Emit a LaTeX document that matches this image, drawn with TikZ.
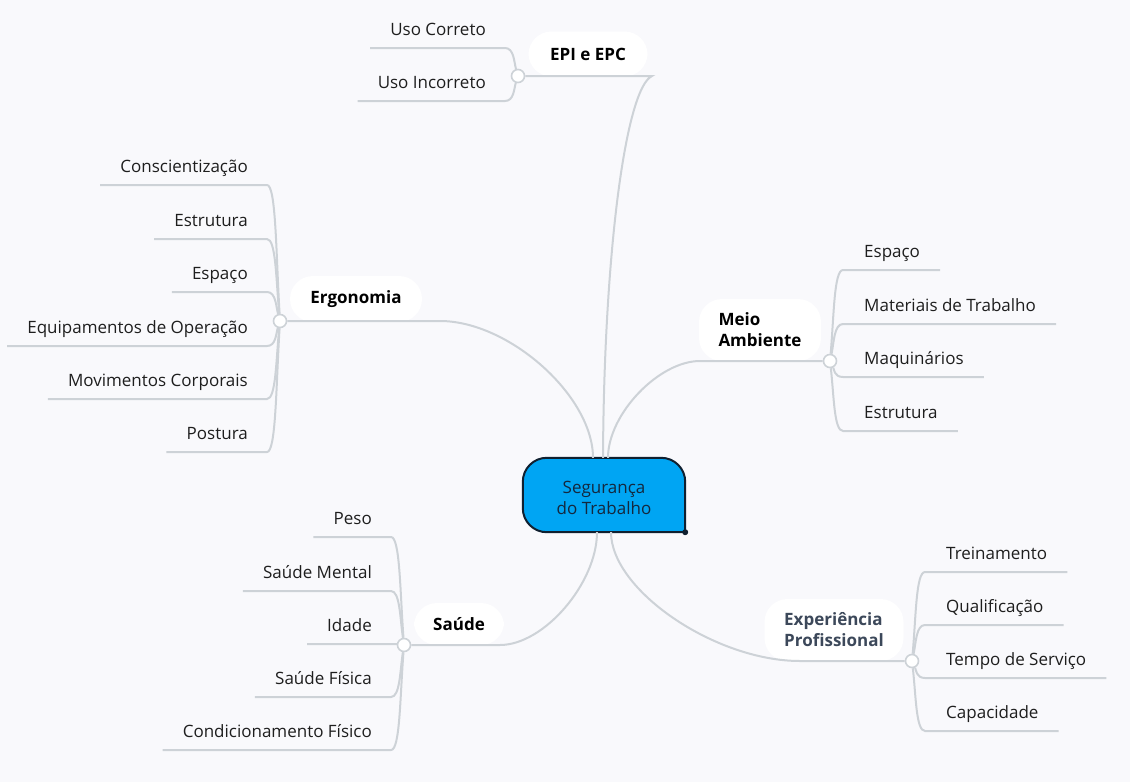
\documentclass[tikz,border=0pt]{standalone}
\usepackage{fontspec}
\setmainfont{Open Sans}
\usetikzlibrary{calc}

\definecolor{bgc}{RGB}{249,249,252}
\definecolor{linec}{RGB}{205,210,215}
\definecolor{hubc}{RGB}{0,165,243}
\definecolor{hubline}{RGB}{16,32,48}
\definecolor{hubtext}{RGB}{20,40,62}
\definecolor{leaftext}{RGB}{30,30,30}
\definecolor{exptext}{RGB}{60,72,90}

\pgfdeclarelayer{back}
\pgfdeclarelayer{front}
\pgfsetlayers{back,main,front}

\tikzset{
  branch/.style={draw=linec, line width=2pt},
  leaf/.style={inner sep=0pt, text=leaftext, font=\fontsize{17}{21}\selectfont},
  topic/.style={fill=white, rounded corners=23pt, inner sep=0pt, text=black,
    font=\fontsize{17}{21}\selectfont\bfseries, align=left},
  junc/.style={circle, draw=linec, line width=1.6pt, fill=white,
    minimum size=13pt, inner sep=0pt},
}

% leaf to the left of its junction: name, label, line y, junction, junction x, junction y
\newcommand\leftleaf[6]{%
  \node[leaf, anchor=base east] (#1) at ({#5-32},{#3-13}) {#2};
  \draw[branch] ($(#1.base west)+(-20,13)$) -- ({#5-13},#3)
    .. controls ({#5-4},#3) and ({#5-4},{(#3+#6)/2}) .. (#4);
}
% leaf to the right of its junction
\newcommand\rightleaf[6]{%
  \node[leaf, anchor=base west] (#1) at ({#5+34},{#3-13}) {#2};
  \draw[branch] ($(#1.base east)+(20,13)$) -- ({#5+13},#3)
    .. controls ({#5+4},#3) and ({#5+4},{(#3+#6)/2}) .. (#4);
}

\begin{document}
\begin{tikzpicture}[x=1pt,y=-1pt]
\useasboundingbox (0,0) rectangle (1130,782);

% central topic: the node reaches 6pt below the drawn box, which keeps its text low
\node[font=\fontsize{17}{21}\selectfont, text=hubtext, align=center,
  minimum width=162pt, minimum height=80pt, inner sep=0pt] (hub) at (604,498)
  {Segurança\\do Trabalho};
\coordinate (hubSE) at ($(hub.south east)+(0,-6)$);
\coordinate (hubSW) at ($(hub.south west)+(0,-6)$);
\coordinate (hubS) at ($(hub.south)+(0,-6)$);
\begin{pgfonlayer}{back}
  \fill[bgc] (0,0) rectangle (1130,782);
  \draw[hubline, line width=2pt, fill=hubc, rounded corners=24pt]
    (hubSE) -- (hubSW) -- (hub.north west)
    -- (hub.north east) -- (hubSE);
  \fill[hubline] (hubSE) circle (3pt);
\end{pgfonlayer}

% main topics
\node[topic, minimum width=119pt, minimum height=45pt] (epi) at (588,54) {EPI e EPC};
\node[topic, minimum width=132pt, minimum height=46pt] (ergo) at (356,299) {Ergonomia};
\node[topic, minimum width=122pt, minimum height=62pt] (meio) at (760,330) {Meio\\Ambiente};
\node[topic, minimum width=139pt, minimum height=62pt, text=exptext] (exp) at (834,630) {Experiência\\Profissional};
\node[topic, minimum width=90pt, minimum height=42pt] (saude) at (459,624) {Saúde};

% junctions
\begin{pgfonlayer}{front}
  \node[junc] (epiJ) at (518,76) {};
  \node[junc] (ergoJ) at (280,321) {};
  \node[junc] (meioJ) at (830,361) {};
  \node[junc] (expJ) at (912,661) {};
  \node[junc] (saudeJ) at (404,645) {};
\end{pgfonlayer}

% branches from the central topic
\coordinate (epiEnd) at (652,76);
\coordinate (ergoEnd) at (440,321);
\coordinate (meioEnd) at (700,361);
\coordinate (saudeEnd) at (500,645);
\coordinate (expEnd) at (800,661);
\draw[branch] ($(hub.north)+(-1,0)$) .. controls (604,250) and (626,88) .. (epiEnd) -- (epiJ);
\draw[branch] ($(hub.north)+(-11,0)$) .. controls (593,396) and (509,321) .. (ergoEnd) -- (ergoJ);
\draw[branch] ($(hub.north)+(4,0)$) .. controls (608,414) and (659,361) .. (meioEnd) -- (meioJ);
\draw[branch] ($(hubS)+(-7,0)$) .. controls (597,583) and (544,645) .. (saudeEnd) -- (saudeJ);
\draw[branch] ($(hubS)+(7,0)$) .. controls (611,590) and (715,661) .. (expEnd) -- (expJ);

% EPI e EPC
\leftleaf{epiA}{Uso Correto}{48}{epiJ}{518}{76}
\leftleaf{epiB}{Uso Incorreto}{101}{epiJ}{518}{76}

% Ergonomia
\leftleaf{ergoA}{Conscientização}{185}{ergoJ}{280}{321}
\leftleaf{ergoB}{Estrutura}{239}{ergoJ}{280}{321}
\leftleaf{ergoC}{Espaço}{292}{ergoJ}{280}{321}
\leftleaf{ergoD}{Equipamentos de Operação}{346}{ergoJ}{280}{321}
\leftleaf{ergoE}{Movimentos Corporais}{399}{ergoJ}{280}{321}
\leftleaf{ergoF}{Postura}{452}{ergoJ}{280}{321}

% Meio Ambiente
\rightleaf{meioA}{Espaço}{270}{meioJ}{830}{361}
\rightleaf{meioB}{Materiais de Trabalho}{324}{meioJ}{830}{361}
\rightleaf{meioC}{Maquinários}{377}{meioJ}{830}{361}
\rightleaf{meioD}{Estrutura}{431}{meioJ}{830}{361}

% Experiência Profissional
\rightleaf{expA}{Treinamento}{572}{expJ}{912}{661}
\rightleaf{expB}{Qualificação}{625}{expJ}{912}{661}
\rightleaf{expC}{Tempo de Serviço}{678}{expJ}{912}{661}
\rightleaf{expD}{Capacidade}{731}{expJ}{912}{661}

% Saúde
\leftleaf{saudeA}{Peso}{537}{saudeJ}{404}{645}
\leftleaf{saudeB}{Saúde Mental}{591}{saudeJ}{404}{645}
\leftleaf{saudeC}{Idade}{644}{saudeJ}{404}{645}
\leftleaf{saudeD}{Saúde Física}{697}{saudeJ}{404}{645}
\leftleaf{saudeE}{Condicionamento Físico}{750}{saudeJ}{404}{645}
\end{tikzpicture}
\end{document}
